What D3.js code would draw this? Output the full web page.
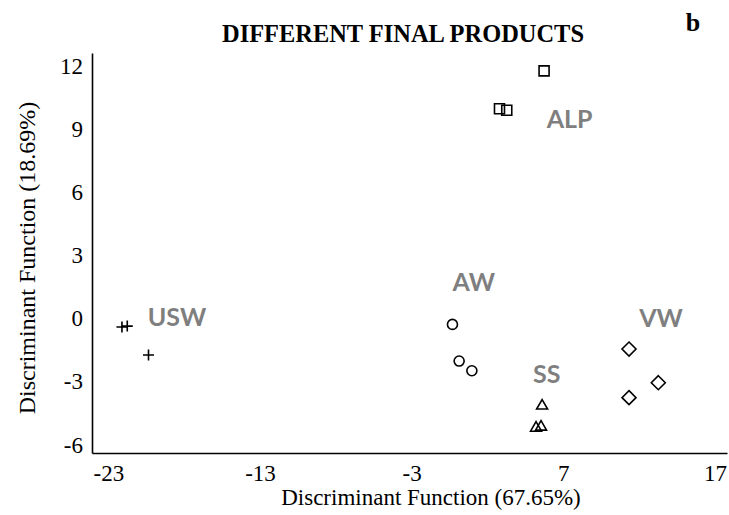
<!DOCTYPE html>
<html>
<head>
<meta charset="utf-8">
<script src="https://cdn.jsdelivr.net/npm/d3@7/dist/d3.min.js"></script>
<style>
  html, body { margin: 0; padding: 0; background: #fff; }
  svg { display: block; }
</style>
</head>
<body>
<div id="chart"></div>
<script>
// ---- data ----
const groups = ["USW", "AW", "SS", "VW", "ALP"];
const uswX = [-22.1, -21.75, -20.35];
const uswY = [-0.44, -0.40, -1.77];
const awX = [-0.31, 0.13, 0.97];
const awY = [-0.32, -2.06, -2.52];
const ssX = [5.6, 5.2, 5.53];
const ssY = [-4.19, -5.24, -5.19];
const vwX = [11.33, 13.26, 11.33];
const vwY = [-1.49, -3.09, -3.80];
const alpX = [5.73, 2.79, 3.27];
const alpY = [11.72, 9.92, 9.85];
const xTicks = [-23, -13, -3, 7, 17];
const yTicks = [-6, -3, 0, 3, 6, 9, 12];
// label anchor positions in data units
const labelX = [-20.4, -0.3, 5.0, 12.0, 5.9];
const labelY = [-0.4, 1.27, -3.09, -0.42, 9.03];

const W = 729, H = 515;
const svg = d3.select("#chart").append("svg").attr("width", W).attr("height", H);

const x = d3.scaleLinear().domain([-24.075, 17.79]).range([92, 727]);
const y = d3.scaleLinear().domain([-6.427, 12.57]).range([453, 53]);

const serif = "'Liberation Serif', 'Times New Roman', serif";
const fmt = d => String(d);

// axes
const xAxis = d3.axisBottom(x).tickValues(xTicks).tickSize(0).tickSizeOuter(0).tickFormat(fmt);
const gx = svg.append("g").attr("transform", `translate(0,${y.range()[0]})`).call(xAxis);
gx.select(".domain").attr("stroke", "#000").attr("stroke-width", 1.6);
gx.selectAll("text").attr("dy", null).attr("y", 28)
  .style("font-family", serif).style("font-size", "23px").attr("fill", "#000");

const yAxis = d3.axisLeft(y).tickValues(yTicks).tickSize(0).tickSizeOuter(0).tickFormat(fmt);
const gy = svg.append("g").attr("transform", `translate(${x.range()[0]},0)`).call(yAxis);
gy.select(".domain").attr("stroke", "#000").attr("stroke-width", 1.6);
gy.selectAll("text").attr("x", -9).attr("dy", "0.35em")
  .style("font-family", serif).style("font-size", "23px").attr("fill", "#000");

// custom symbol types
const plusType = { draw(ctx, size) { const r = Math.sqrt(size) / 2; ctx.moveTo(-r, 0); ctx.lineTo(r, 0); ctx.moveTo(0, -r); ctx.lineTo(0, r); } };
const diamondType = { draw(ctx, size) { const r = Math.sqrt(size) / 2; ctx.moveTo(0, -r); ctx.lineTo(r, 0); ctx.lineTo(0, r); ctx.lineTo(-r, 0); ctx.closePath(); } };
const triType = { draw(ctx, size) { const s = Math.sqrt(size); const h = s * Math.sqrt(3) / 2; ctx.moveTo(0, -h * 2 / 3); ctx.lineTo(s / 2, h / 3); ctx.lineTo(-s / 2, h / 3); ctx.closePath(); } };

const series = [
  { xs: uswX, ys: uswY, sym: d3.symbol().type(plusType).size(121), sw: 1.6 },
  { xs: awX, ys: awY, sym: d3.symbol().type(d3.symbolCircle).size(Math.PI * 25), sw: 1.6 },
  { xs: ssX, ys: ssY, sym: d3.symbol().type(triType).size(121), sw: 1.6 },
  { xs: vwX, ys: vwY, sym: d3.symbol().type(diamondType).size(196), sw: 1.6 },
  { xs: alpX, ys: alpY, sym: d3.symbol().type(d3.symbolSquare).size(100), sw: 1.6 }
];

series.forEach(s => {
  svg.append("g").selectAll("path").data(s.xs.map((v, i) => [v, s.ys[i]])).join("path")
    .attr("transform", d => `translate(${x(d[0])},${y(d[1])})`)
    .attr("d", s.sym())
    .attr("fill", "none").attr("stroke", "#000").attr("stroke-width", s.sw);
});

// group labels
svg.append("g").selectAll("text").data(groups).join("text")
  .attr("x", (d, i) => x(labelX[i]))
  .attr("y", (d, i) => y(labelY[i]))
  .text(d => d)
  .style("font-family", "Lato, 'Open Sans', sans-serif").style("font-weight", "bold").style("font-size", "25px")
  .attr("fill", "#7f7f7f");

// titles
svg.append("text").attr("x", 403).attr("y", 42).attr("text-anchor", "middle")
  .attr("textLength", 362).attr("lengthAdjust", "spacingAndGlyphs")
  .style("font-family", serif).style("font-weight", "bold").style("font-size", "26px")
  .text("DIFFERENT FINAL PRODUCTS");
svg.append("text").attr("x", 693).attr("y", 31).attr("text-anchor", "middle")
  .style("font-family", serif).style("font-weight", "bold").style("font-size", "26px")
  .text("b");
svg.append("text").attr("x", 431).attr("y", 505).attr("text-anchor", "middle")
  .style("font-family", serif).style("font-size", "23px")
  .text("Discriminant Function (67.65%)");
svg.append("text").attr("transform", "translate(35,258) rotate(-90)").attr("text-anchor", "middle")
  .style("font-family", serif).style("font-size", "24px")
  .text("Discriminant Function (18.69%)");
</script>
</body>
</html>
